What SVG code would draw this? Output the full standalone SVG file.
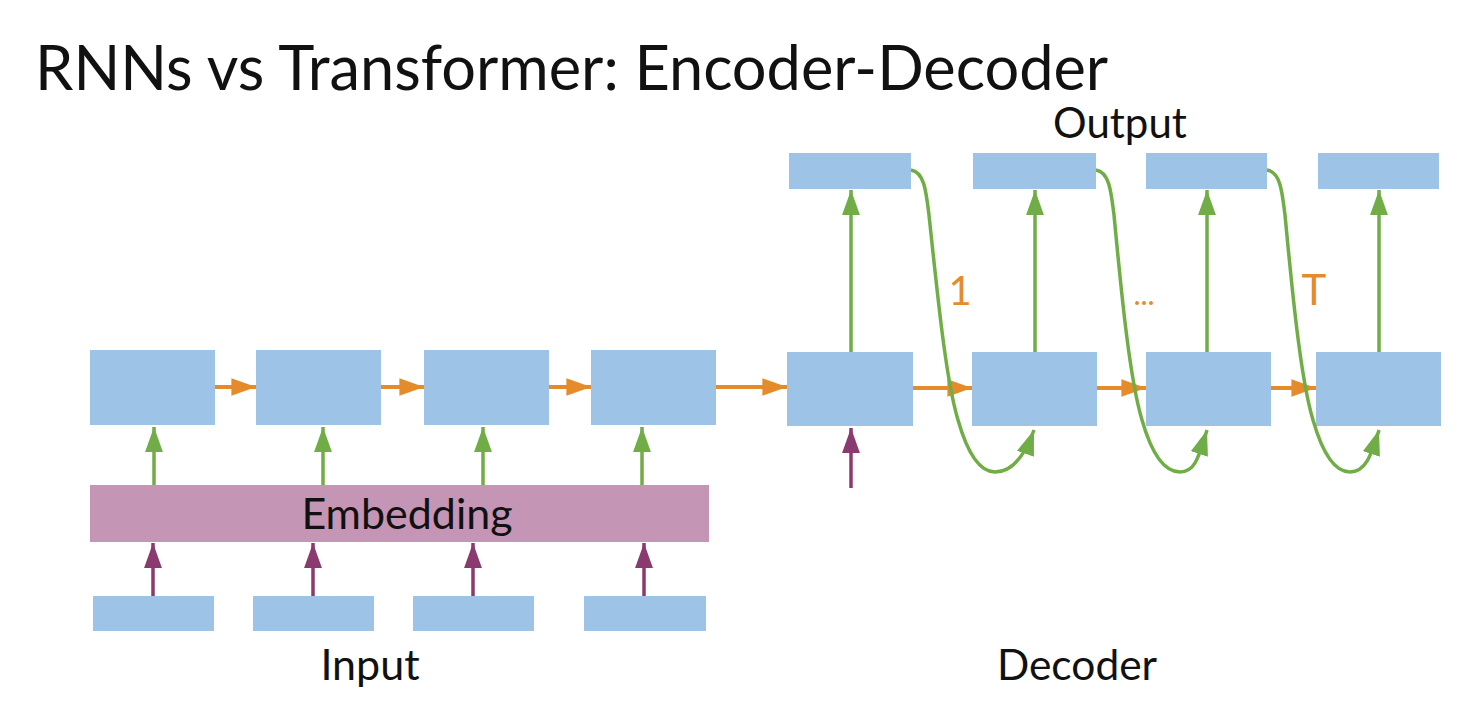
<svg xmlns="http://www.w3.org/2000/svg" width="1461" height="710" viewBox="0 0 1461 710">
  <defs>
    <style>
      .box { fill: #9dc3e6; }
      .emb { fill: #c595b6; }
      .t { font-family: Lato, "Open Sans", "Liberation Sans", sans-serif; fill: #111; }
      .g { stroke: #70ad47; stroke-width: 3.5; fill: none; }
      .o { stroke: #e58b2a; stroke-width: 4; fill: none; }
      .p { stroke: #8a3a6e; stroke-width: 3.5; fill: none; }
      .lbl { font-family: Lato, "Open Sans", "Liberation Sans", sans-serif; fill: #e58b2a; }
    </style>
    <marker id="ag" viewBox="0 0 14 10" refX="14" refY="5" markerWidth="7.2" markerHeight="5.2" orient="auto" markerUnits="strokeWidth">
      <path d="M0,0 L14,5 L0,10 Z" fill="#70ad47"/>
    </marker>
    <marker id="ao" viewBox="0 0 14 10" refX="14" refY="5" markerWidth="6.2" markerHeight="4.4" orient="auto" markerUnits="strokeWidth">
      <path d="M0,0 L14,5 L0,10 Z" fill="#e58b2a"/>
    </marker>
    <marker id="ap" viewBox="0 0 14 10" refX="14" refY="5" markerWidth="7.2" markerHeight="5.2" orient="auto" markerUnits="strokeWidth">
      <path d="M0,0 L14,5 L0,10 Z" fill="#8a3a6e"/>
    </marker>
  </defs>
  <rect width="1461" height="710" fill="#ffffff"/>

  <text class="t" x="35" y="90" font-size="61.3">RNNs vs Transformer: Encoder-Decoder</text>

  <g id="enc1"><rect class="box" x="90" y="350" width="125" height="75"/></g>
  <g id="enc2"><rect class="box" x="256" y="350" width="125" height="75"/></g>
  <g id="enc3"><rect class="box" x="424" y="350" width="125" height="75"/></g>
  <g id="enc4"><rect class="box" x="591" y="350" width="125" height="75"/></g>

  <g id="embedding"><rect class="emb" x="90" y="485" width="619" height="57"/>
    <text class="t" x="407" y="529" font-size="43" text-anchor="middle" fill="#2a0f22">Embedding</text></g>

  <g id="in1"><rect class="box" x="93" y="596" width="121" height="35"/></g>
  <g id="in2"><rect class="box" x="253" y="596" width="121" height="35"/></g>
  <g id="in3"><rect class="box" x="413" y="596" width="121" height="35"/></g>
  <g id="in4"><rect class="box" x="584" y="596" width="122" height="35"/></g>
  <g id="input-label"><text class="t" x="370" y="680" font-size="43" text-anchor="middle">Input</text></g>

  <g id="dec1"><rect class="box" x="787" y="352" width="126" height="74"/></g>
  <g id="dec2"><rect class="box" x="972" y="352" width="125" height="74"/></g>
  <g id="dec3"><rect class="box" x="1146" y="352" width="125" height="74"/></g>
  <g id="dec4"><rect class="box" x="1316" y="352" width="125" height="74"/></g>

  <g id="out1"><rect class="box" x="789" y="153" width="122" height="36"/></g>
  <g id="out2"><rect class="box" x="973" y="153" width="123" height="36"/></g>
  <g id="out3"><rect class="box" x="1146" y="153" width="121" height="36"/></g>
  <g id="out4"><rect class="box" x="1318" y="153" width="121" height="36"/></g>

  <g id="output-label"><text class="t" x="1120" y="138" font-size="42" text-anchor="middle">Output</text></g>
  <g id="decoder-label"><text class="t" x="1077" y="680" font-size="42.5" text-anchor="middle">Decoder</text></g>

  <g id="connectors">
    <line class="o" x1="215" y1="387" x2="256" y2="387" marker-end="url(#ao)"/>
    <line class="o" x1="381" y1="387" x2="424" y2="387" marker-end="url(#ao)"/>
    <line class="o" x1="549" y1="387" x2="591" y2="387" marker-end="url(#ao)"/>
    <line class="o" x1="716" y1="387" x2="787" y2="387" marker-end="url(#ao)"/>
    <line class="o" x1="913" y1="388" x2="972" y2="388" marker-end="url(#ao)"/>
    <line class="o" x1="1097" y1="388" x2="1146" y2="388" marker-end="url(#ao)"/>
    <line class="o" x1="1271" y1="388" x2="1316" y2="388" marker-end="url(#ao)"/>
    <line class="g" x1="154" y1="485" x2="154" y2="427" marker-end="url(#ag)"/>
    <line class="g" x1="323" y1="485" x2="323" y2="427" marker-end="url(#ag)"/>
    <line class="g" x1="483" y1="485" x2="483" y2="427" marker-end="url(#ag)"/>
    <line class="g" x1="642" y1="485" x2="642" y2="427" marker-end="url(#ag)"/>
    <line class="p" x1="153" y1="596" x2="153" y2="543" marker-end="url(#ap)"/>
    <line class="p" x1="313" y1="596" x2="313" y2="543" marker-end="url(#ap)"/>
    <line class="p" x1="473" y1="596" x2="473" y2="543" marker-end="url(#ap)"/>
    <line class="p" x1="644" y1="596" x2="644" y2="543" marker-end="url(#ap)"/>
    <line class="p" x1="851" y1="488" x2="851" y2="428" marker-end="url(#ap)"/>
    <line class="g" x1="851" y1="352" x2="851" y2="190" marker-end="url(#ag)"/>
    <line class="g" x1="1035" y1="352" x2="1035" y2="190" marker-end="url(#ag)"/>
    <line class="g" x1="1207" y1="352" x2="1207" y2="190" marker-end="url(#ag)"/>
    <line class="g" x1="1379" y1="352" x2="1379" y2="190" marker-end="url(#ag)"/>
    <path class="g" d="M911,170 C924,172 926,190 929,215 C938,300 946,380 958,420 C968,455 980,472 995,472 C1012,472 1025,455 1034,430" marker-end="url(#ag)"/>
    <path class="g" d="M1096,170 C1109,172 1111,190 1114,215 C1122,300 1130,380 1142,420 C1152,455 1165,472 1180,472 C1196,472 1199,455 1207,430" marker-end="url(#ag)"/>
    <path class="g" d="M1267,170 C1280,172 1282,190 1285,215 C1293,300 1301,380 1313,420 C1323,455 1335,472 1350,472 C1366,472 1371,455 1379,430" marker-end="url(#ag)"/>
  </g>

  <g id="step-labels">
    <text class="lbl" x="960" y="305" font-size="40" text-anchor="middle">1</text>
    <text class="lbl" x="1144" y="305" font-size="30" text-anchor="middle">...</text>
    <text class="lbl" x="1314" y="305" font-size="42" text-anchor="middle">T</text>
  </g>
</svg>
